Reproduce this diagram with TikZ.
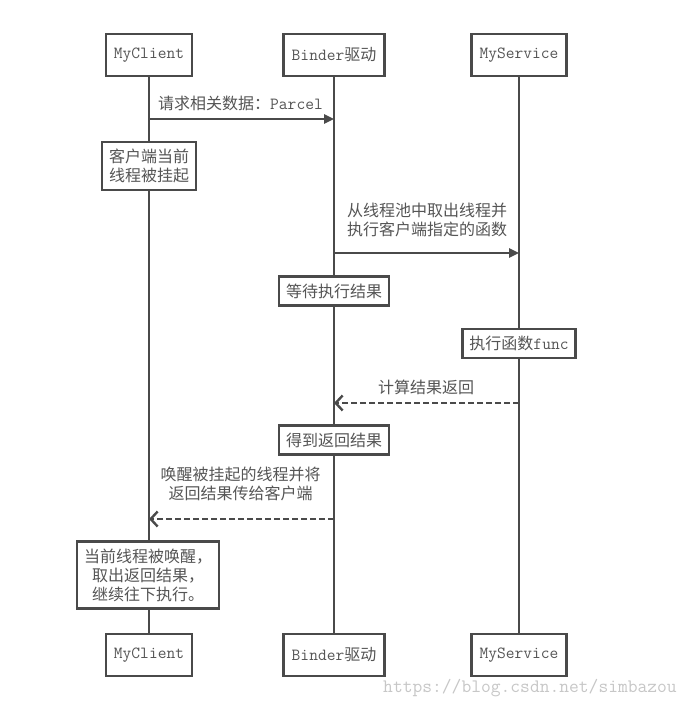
\documentclass[tikz,border=0pt]{standalone}
\usepackage{fontspec}
\newfontfamily\cjk{Noto Sans CJK SC}
\newcommand\cj[1]{{\cjk\fontsize{16}{19}\selectfont #1}}
\usetikzlibrary{arrows.meta}
\definecolor{ln}{HTML}{4A4A4A}
\definecolor{tx}{HTML}{555555}
\tikzset{
  base/.style={font=\ttfamily\fontsize{17}{19}\selectfont, text=tx},
  head/.style={base, draw=ln, line width=2.6pt, fill=white, inner xsep=8pt, minimum height=42pt},
  act/.style={base, draw=ln, line width=2.6pt, fill=white, inner xsep=7pt, inner ysep=7pt, align=center},
  life/.style={draw=ln, line width=2.8pt},
  msg/.style={draw=ln, line width=2.4pt, -{Triangle[length=10pt,width=9pt]}},
  ret/.style={draw=ln, line width=2.4pt, dash pattern=on 6pt off 3pt, -{Straight Barb[length=7pt,width=15pt,line width=2.4pt]}},
  lbl/.style={base, align=center, inner sep=0pt}
}
\begin{document}
\begin{tikzpicture}[x=1pt,y=-1pt]
\useasboundingbox[fill=white] (0,0) rectangle (692,708);
% heads
\node[head] (ct) at (149,55) {MyClient};
\node[head] (bt) at (334,55) {Binder\cj{驱动}};
\node[head] (st) at (519,55) {MyService};
\node[head] (cb) at (149,655) {MyClient};
\node[head] (bb) at (334,655) {Binder\cj{驱动}};
\node[head] (sb) at (519,655) {MyService};
% lifelines
\draw[life] (ct) -- (cb);
\draw[life] (bt) -- (bb);
\draw[life] (st) -- (sb);
% activation boxes
\node[act] (a1) at (149,166) {\cj{客户端当前}\\\cj{线程被挂起}};
\node[act] (a2) at (334,291) {\cj{等待执行结果}};
\node[act] (a3) at (519,343.5) {\cj{执行函数}func};
\node[act] (a4) at (334,440) {\cj{得到返回结果}};
\node[act] (a5) at (148,575) {\cj{当前线程被唤醒，}\\\cj{取出返回结果，}\\\cj{继续往下执行。}};
% message points
\coordinate (m1s) at (149,119); \coordinate (m1e) at (334,119);
\coordinate (m2s) at (334,253); \coordinate (m2e) at (519,253);
\coordinate (m3s) at (519,403); \coordinate (m3e) at (334,403);
\coordinate (m4s) at (334,519); \coordinate (m4e) at (149,519);
\draw[msg] (m1s) -- (m1e);
\draw[msg] (m2s) -- (m2e);
\draw[ret] (m3s) -- (m3e);
\draw[ret] (m4s) -- (m4e);
% labels
\node[lbl] (l1) at (240.5,103) {\cj{请求相关数据：}Parcel};
\node[lbl] (l2) at (427,220) {\cj{从线程池中取出线程并}\\\cj{执行客户端指定的函数}};
\node[lbl] (l3) at (426,387) {\cj{计算结果返回}};
\node[lbl] (l4) at (240.5,484) {\cj{唤醒被挂起的线程并将}\\\cj{返回结果传给客户端}};
% watermark
\node[font=\ttfamily\fontsize{19}{22}\selectfont, text=black!22, inner sep=0pt] (wm) at (530,688) {https://blog.csdn.net/simbazou};
\end{tikzpicture}
\end{document}
